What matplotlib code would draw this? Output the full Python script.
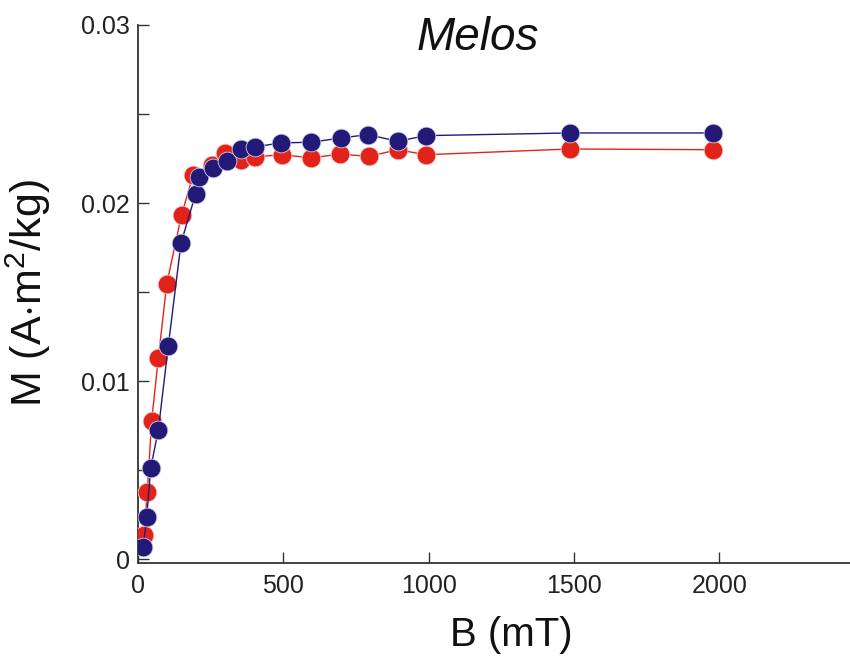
import numpy as np
import matplotlib.pyplot as plt
from matplotlib.ticker import MultipleLocator

plt.rcParams['font.family'] = ['Liberation Sans', 'DejaVu Sans']
plt.rcParams['mathtext.fontset'] = 'custom'
plt.rcParams['mathtext.rm'] = 'Liberation Sans'

# Red series (B in mT, M in A*m^2/kg)
b_red = [21, 32, 47, 70, 99, 150, 190, 253, 299, 353, 402, 497, 595, 694, 795, 894, 990, 1485, 1977]
m_red = [0.00138, 0.0038, 0.0078, 0.0113, 0.01548, 0.01935, 0.0216, 0.02216, 0.02282, 0.02244,
         0.0226, 0.02272, 0.02254, 0.02275, 0.02263, 0.0230, 0.02272, 0.02304, 0.0230]

# Blue series
b_blue = [18, 30, 44, 70, 104, 148, 198, 210, 257, 305, 354, 402, 491, 595, 700, 791, 894, 990, 1485, 1977]
m_blue = [0.00069, 0.0024, 0.00516, 0.00727, 0.01196, 0.01776, 0.0205, 0.02147, 0.02198, 0.02235,
          0.02304, 0.02316, 0.02338, 0.02342, 0.02366, 0.02385, 0.02347, 0.02379, 0.02394, 0.02394]

red = '#e2231a'
blue = '#231a78'

fig = plt.figure(figsize=(8.5, 6.66), dpi=100)
ax = fig.add_axes([138 / 850, (666 - 562.5) / 666, 1 - 138 / 850, (562.5 - 25) / 666])

ax.plot(b_red, m_red, '-o', color=red, lw=1.0, ms=13.5, mec='#f4d0d0', mew=0.6, zorder=3)
ax.plot(b_blue, m_blue, '-o', color=blue, lw=1.0, ms=13.5, mec='#d0d0e8', mew=0.6, zorder=4)

ax.set_xlim(0, 2450)
ax.set_ylim(-0.00017, 0.03)
ax.spines['top'].set_visible(False)
ax.spines['right'].set_visible(False)
for s in ('left', 'bottom'):
    ax.spines[s].set_color('#333333')
    ax.spines[s].set_linewidth(1.3)

ax.set_xticks([0, 500, 1000, 1500, 2000])
ax.set_yticks([0, 0.01, 0.02, 0.03])
ax.set_yticklabels(['0', '0.01', '0.02', '0.03'])
ax.yaxis.set_minor_locator(MultipleLocator(0.005))
ax.tick_params(axis='both', which='both', direction='in', length=8, width=1.0,
               color='#333333', labelsize=18, labelcolor='#222222')
ax.tick_params(axis='x', pad=8)
ax.tick_params(axis='y', pad=6)

fig.text(478 / 850, 1 - 38 / 666, 'Melos', fontsize=33, style='italic',
         ha='center', va='center', color='#111111')
fig.text(511 / 850, 1 - 635 / 666, 'B (mT)', fontsize=29,
         ha='center', va='center', color='#111111')
fig.text(28 / 850, 1 - 293 / 666, r'M (A$\cdot$m$^2$/kg)', fontsize=31, rotation=90,
         ha='center', va='center', color='#111111')

fig.savefig('out.png', dpi=100)
